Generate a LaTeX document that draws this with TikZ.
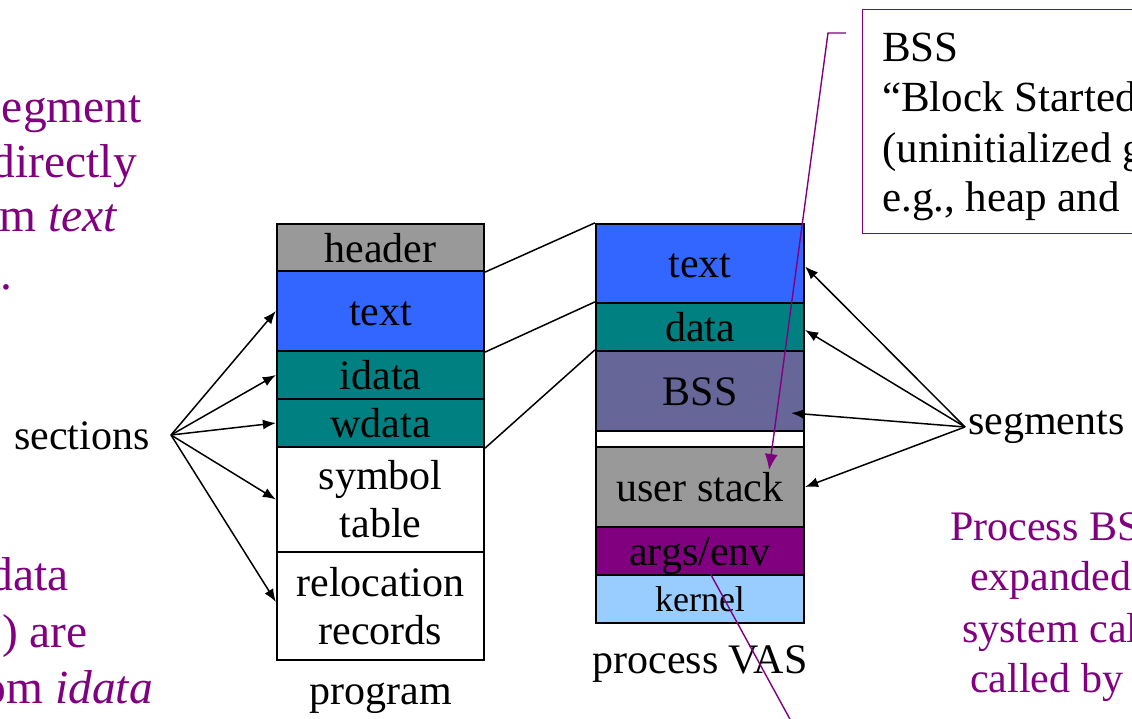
\documentclass[tikz,border=0pt]{standalone}
\usepackage{fontspec}
\setmainfont{Liberation Serif}
\usetikzlibrary{arrows.meta,calc}
\definecolor{pgray}{HTML}{999999}
\definecolor{pblue}{HTML}{3366FF}
\definecolor{pteal}{HTML}{008080}
\definecolor{pbss}{HTML}{666699}
\definecolor{ppurple}{HTML}{800080}
\definecolor{pkern}{HTML}{99CCFF}
\begin{document}
\begin{tikzpicture}[x=1pt,y=-1pt,
  seg/.style={draw=black,line width=2.2pt,inner sep=0pt,font=\fontsize{42}{48}\selectfont,align=center},
  one/.style={text height=31pt,text depth=2pt},
  pcol/.style={seg,minimum width=207pt},
  vcol/.style={seg,minimum width=208pt},
  lbl/.style={inner sep=0pt,font=\fontsize{42}{48}\selectfont},
  lpurple/.style={inner sep=0pt,font=\fontsize{47.5}{52}\selectfont,text=ppurple,anchor=base east},
  rpurple/.style={inner sep=0pt,font=\fontsize{42}{48}\selectfont,text=ppurple,anchor=base west},
  ctext/.style={inner sep=0pt,font=\fontsize{43}{48}\selectfont,anchor=base west},
  arr/.style={line width=1.5pt,-{Latex[length=13pt,width=10pt]}},
  link/.style={line width=1.5pt},
  pline/.style={draw=ppurple,line width=1.4pt}]
\useasboundingbox (0,0) rectangle (1132,719);
\clip (0,0) rectangle (1132,719);
\fill[white] (0,0) rectangle (1132,719);

% program column
\node[pcol,one,fill=pgray,minimum height=47pt] (header) at (380.5,247.5) {header};
\node[pcol,one,fill=pblue,minimum height=80pt] (ptext) at (380.5,311) {text};
\node[pcol,one,fill=pteal,minimum height=48pt] (idata) at (380.5,375) {idata};
\node[pcol,one,fill=pteal,minimum height=48pt] (wdata) at (380.5,423) {wdata};
\node[pcol,fill=white,minimum height=105pt] (sym) at (380.5,499.5) {symbol\\table};
\node[pcol,fill=white,minimum height=108pt] (reloc) at (380.5,606) {relocation\\records};
\node[lbl,anchor=base] (prog) at (381,704) {program};

% process VAS column
\node[vcol,one,fill=pblue,minimum height=79pt] (vtext) at (700,263.5) {text};
\node[vcol,one,fill=pteal,minimum height=48pt] (vdata) at (700,327) {data};
\node[vcol,one,fill=pbss,minimum height=80pt] (vbss) at (700,391) {BSS};
\node[vcol,fill=white,minimum height=16pt] (vgap) at (700,439) {};
\node[vcol,one,fill=pgray,minimum height=80pt] (vstack) at (700,487) {user stack};
\node[vcol,one,fill=ppurple,minimum height=48pt] (vargs) at (700,551) {args/env};
\node[vcol,fill=pkern,minimum height=48pt,font=\fontsize{36}{40}\selectfont,text height=27pt,text depth=2pt] (vkern) at (700,599) {kernel};
\node[lbl,anchor=base] (vas) at (700,673) {process VAS};

% links program -> VAS
\draw[link] (header.south east) -- (vtext.north west);
\draw[link] (ptext.south east) -- (vdata.north west);
\draw[link] (wdata.south east) -- (vbss.north west);

% sections
\node[lbl,anchor=base west] (sections) at (14,449) {sections};
\coordinate (sec) at (171,435);
\draw[arr] (sec) -- (ptext.west);
\draw[arr] (sec) -- (idata.west);
\draw[arr] (sec) -- (wdata.west);
\draw[arr] (sec) -- (sym.west);
\draw[arr] (sec) -- ([yshift=4pt]reloc.west);

% segments
\node[lbl,anchor=base west] (segments) at (968,434) {segments};
\coordinate (sgm) at (965,427);
\draw[arr] (sgm) -- ([yshift=-3pt]vtext.east);
\draw[arr] (sgm) -- ([yshift=-3pt]vdata.east);
\draw[arr] (sgm) -- ([shift={(-14,22)}]vbss.east);
\draw[arr] (sgm) -- (vstack.east);

% BSS callout
\node[draw=ppurple,line width=1.4pt,minimum width=300pt,minimum height=224pt,anchor=north west,inner sep=0pt] (bssbox) at (862,9) {};
\node[ctext] (c1) at (882,62) {BSS};
\node[ctext] (c2) at (882,112) {“Block Started};
\node[ctext] (c3) at (882,163) {(uninitialized g};
\node[ctext] (c4) at (882,212) {e.g., heap and};
\coordinate (bsstail) at (846,33);
\coordinate (bssknee) at (828,33);
\draw[pline,-{Latex[length=16pt,width=13pt]}] (bsstail) -- (bssknee) -- ([shift={(-36,-17)}]vstack.east);

% args/env line to off-picture callout
\coordinate (argsend) at ([shift={(10,22)}]vargs.center);
\coordinate (offbelow) at (797,732);
\draw[pline] (argsend) -- (offbelow);

% purple notes, left
\node[lpurple] (l1) at (142,123) {egment};
\node[lpurple] (l2) at (137,178) {directly};
\node[lpurple] (l3) at (118,232) {m \textit{text}};
\node[lpurple] (l4) at (13,290) {n.};
\node[lpurple] (l5) at (69,590) {data};
\node[lpurple] (l6) at (88,647) {S) are};
\node[lpurple] (l7) at (153,703) {om \textit{idata}};

% purple notes, right
\node[rpurple] (r1) at (950,540) {Process BS};
\node[rpurple] (r2) at (970,590) {expanded};
\node[rpurple] (r3) at (962,642) {system cal};
\node[rpurple] (r4) at (970,692) {called by};
\end{tikzpicture}
\end{document}
